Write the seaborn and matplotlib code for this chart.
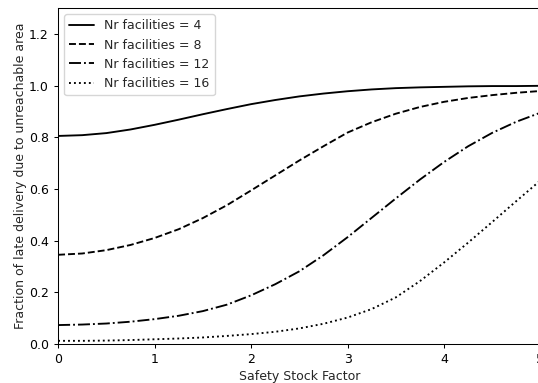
import matplotlib
matplotlib.use("Agg")
import matplotlib.pyplot as plt
import pandas as pd
import seaborn as sns

# values
safety_factor = [0.0, 0.25, 0.5, 0.75, 1.0, 1.25, 1.5, 1.75, 2.0, 2.25, 2.5,
                 2.75, 3.0, 3.25, 3.5, 3.75, 4.0, 4.25, 4.5, 4.75, 5.0]

late_n4 = [0.805, 0.808, 0.816, 0.830, 0.848, 0.868, 0.889, 0.909, 0.928, 0.944, 0.958,
           0.969, 0.978, 0.985, 0.990, 0.993, 0.995, 0.997, 0.998, 0.998, 0.999]
late_n8 = [0.345, 0.350, 0.363, 0.383, 0.410, 0.444, 0.487, 0.537, 0.594, 0.652, 0.710,
           0.765, 0.818, 0.858, 0.891, 0.917, 0.937, 0.952, 0.963, 0.972, 0.979]
late_n12 = [0.073, 0.075, 0.079, 0.086, 0.096, 0.109, 0.127, 0.152, 0.188, 0.231, 0.281,
            0.343, 0.413, 0.488, 0.563, 0.636, 0.704, 0.765, 0.817, 0.860, 0.895]
late_n16 = [0.012, 0.012, 0.013, 0.015, 0.018, 0.021, 0.025, 0.031, 0.038, 0.047, 0.060,
            0.078, 0.102, 0.135, 0.180, 0.243, 0.315, 0.392, 0.472, 0.553, 0.633]

series_labels = ["Nr facilities = 4", "Nr facilities = 8",
                 "Nr facilities = 12", "Nr facilities = 16"]
line_styles = ["-", "--", "-.", ":"]


def main():
    sns.set_style("ticks")
    plt.rcParams["font.family"] = ["DejaVu Sans"]
    plt.rcParams["font.size"] = 9
    plt.rcParams["axes.linewidth"] = 0.75
    plt.rcParams["xtick.major.width"] = 0.75
    plt.rcParams["ytick.major.width"] = 0.75
    plt.rcParams["xtick.major.size"] = 3.2
    plt.rcParams["ytick.major.size"] = 3.2
    plt.rcParams["lines.dashed_pattern"] = [3.7, 1.6]
    plt.rcParams["lines.dashdot_pattern"] = [6.4, 1.6, 1.0, 1.6]
    plt.rcParams["lines.dotted_pattern"] = [1.0, 1.65]

    df = pd.DataFrame({
        "x": safety_factor,
        series_labels[0]: late_n4,
        series_labels[1]: late_n8,
        series_labels[2]: late_n12,
        series_labels[3]: late_n16,
    })

    fig, ax = plt.subplots(figsize=(5.38, 3.83), dpi=100)
    fig.subplots_adjust(left=0.108, right=1.0046, top=0.979, bottom=0.102)

    for label, ls in zip(series_labels, line_styles):
        sns.lineplot(data=df, x="x", y=label, ax=ax, color="black",
                     linestyle=ls, linewidth=1.35, label=label)

    ax.set_xlim(0, 5)
    ax.set_ylim(0, 1.3)
    ax.set_yticks([0.0, 0.2, 0.4, 0.6, 0.8, 1.0, 1.2])
    ax.set_xlabel("Safety Stock Factor", fontsize=9, labelpad=3)
    ax.set_ylabel("Fraction of late delivery due to unreachable area", fontsize=9, labelpad=1.5)
    ax.tick_params(colors="black", labelsize=9)
    for side in ax.spines.values():
        side.set_color("black")
    ax.legend(loc="upper left", fontsize=9)

    fig.savefig("out.png", dpi=100)
    plt.close(fig)


if __name__ == "__main__":
    main()
